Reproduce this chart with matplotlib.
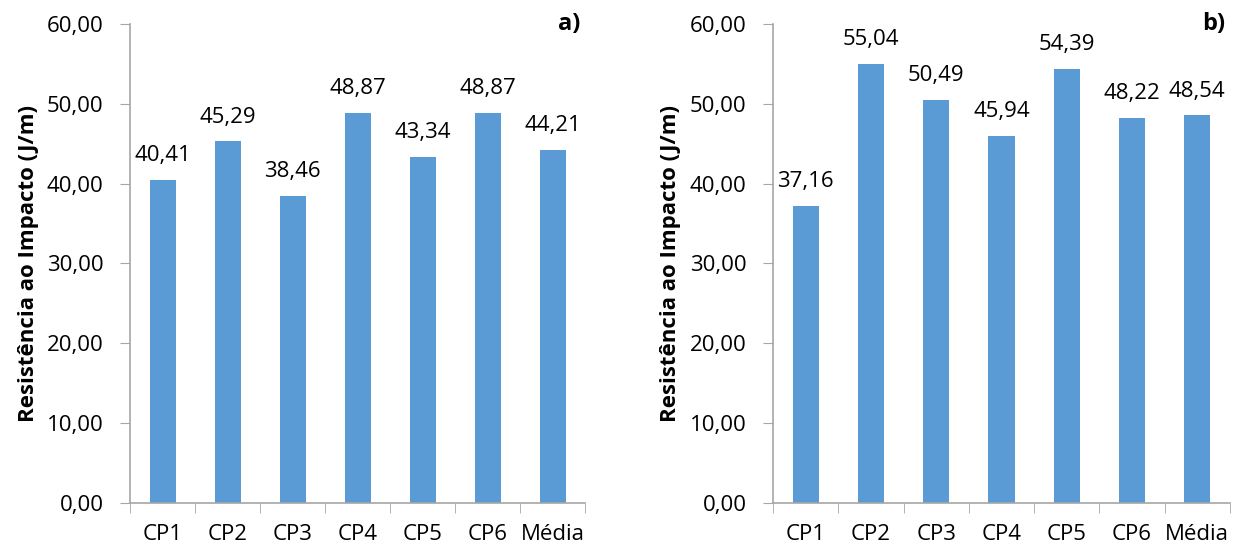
import matplotlib.pyplot as plt
from matplotlib.ticker import FuncFormatter, FixedLocator

categories = ["CP1", "CP2", "CP3", "CP4", "CP5", "CP6", "Média"]
values_a = [40.41, 45.29, 38.46, 48.87, 43.34, 48.87, 44.21]
values_b = [37.16, 55.04, 50.49, 45.94, 54.39, 48.22, 48.54]
panel_labels = ["a)", "b)"]

bar_color = "#5B9BD5"
axis_color = "#A6A6A6"
plt.rcParams["font.family"] = ["Open Sans", "DejaVu Sans"]
fs = 16


def comma(v, pos=None):
    return f"{v:.2f}".replace(".", ",")


def draw_panel(ax, values, tag):
    x = list(range(len(categories)))
    ax.bar(x, values, width=0.4, color=bar_color, zorder=2)
    for xi, v in zip(x, values):
        ax.annotate(comma(v), (xi, v), xytext=(0, 10), textcoords="offset points",
                    ha="center", va="bottom", fontsize=fs)
    ax.set_xlim(-0.5, len(categories) - 0.5)
    ax.set_ylim(0, 60)
    ax.set_yticks(range(0, 61, 10))
    ax.yaxis.set_major_formatter(FuncFormatter(comma))
    ax.set_xticks(x)
    ax.set_xticklabels(categories)
    ax.xaxis.set_minor_locator(FixedLocator([i - 0.5 for i in range(len(categories) + 1)]))
    ax.tick_params(axis="x", which="major", length=0, pad=15, labelsize=fs)
    ax.tick_params(axis="x", which="minor", length=7, color=axis_color, direction="out")
    ax.tick_params(axis="y", length=7, color=axis_color, labelsize=fs, pad=12)
    for side in ("top", "right"):
        ax.spines[side].set_visible(False)
    for side in ("left", "bottom"):
        ax.spines[side].set_color(axis_color)
        ax.spines[side].set_linewidth(1.2)
    ax.set_ylabel("Resistência ao Impacto (J/m)", fontsize=fs, fontweight="bold", labelpad=6)
    ax.text(0.99, 1.0, tag, transform=ax.transAxes, ha="right", va="center",
            fontsize=fs + 1, fontweight="bold")


fig = plt.figure(figsize=(12.54, 5.49), dpi=100)
ax1 = fig.add_axes([0.1037, 0.0838, 0.363, 0.8725])
ax2 = fig.add_axes([0.6164, 0.0838, 0.3644, 0.8725])
draw_panel(ax1, values_a, panel_labels[0])
draw_panel(ax2, values_b, panel_labels[1])

fig.savefig("out.png", dpi=100)
